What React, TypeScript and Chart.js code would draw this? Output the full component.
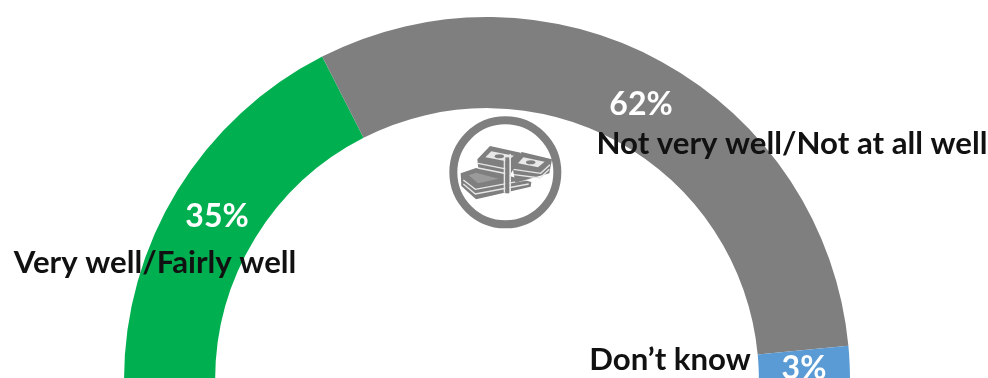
import React, { useEffect, useRef } from "react";
import { Chart, registerables } from "chart.js";

Chart.register(...registerables);

const categories = ["Very well/Fairly well", "Not very well/Not at all well", "Don’t know"];
const values = [35, 62, 3];
const percentLabels = ["35%", "62%", "3%"];
const colors = ["#00B050", "#7F7F7F", "#5B9BD5"];

const FONT = "Lato, Carlito, sans-serif";

const labelPlugin = {
  id: "gaugeLabels",
  afterDraw(chart: any) {
    const ctx = chart.ctx as CanvasRenderingContext2D;
    ctx.save();
    ctx.textBaseline = "alphabetic";
    ctx.textAlign = "center";
    const pct: [number, number][] = [[217, 227], [641, 115], [804, 379]];
    ctx.fillStyle = "#FFFFFF";
    ctx.font = `bold 32px ${FONT}`;
    percentLabels.forEach((t, i) => ctx.fillText(t, pct[i][0], pct[i][1]));
    const cat: [number, number][] = [[155, 273], [792, 154], [670, 370]];
    ctx.fillStyle = "#111111";
    ctx.font = `bold 31.2px ${FONT}`;
    categories.forEach((t, i) => ctx.fillText(t, cat[i][0], cat[i][1]));
    ctx.restore();
  },
};

function MoneyIcon() {
  const g = "#7F7F7F";
  const w = "#E8E8E8";
  return (
    <svg
      width={130}
      height={130}
      viewBox="0 -30 390 390"
      style={{ position: "absolute", left: 440, top: 110 }}
    >
      <circle cx={196} cy={157} r={156} fill="none" stroke={g} strokeWidth={24} />
      {/* bottom stack */}
      <polygon points="62,160 108,144 200,166 274,186 272,200 108,238 64,198" fill={g} />
      <polygon points="86,166 108,158 176,176 114,190" fill="#9A9A9A" />
      <path d="M70,180 L106,208 L268,178 M70,192 L106,222 L266,192" stroke={w} strokeWidth={4} fill="none" />
      {/* right stack */}
      <polygon points="245,96 336,118 328,160 226,188 216,132" fill={g} />
      <polygon points="250,112 314,125 294,142 234,130" fill={w} />
      <ellipse cx={272} cy={127} rx={14} ry={6} fill={g} />
      <path d="M220,148 L302,160 L330,134 M222,164 L300,174 L328,148" stroke={w} strokeWidth={4} fill="none" />
      {/* left stack */}
      <polygon points="150,78 242,98 238,120 204,174 116,154 112,118" fill={g} />
      <polygon points="154,94 222,107 200,124 136,112" fill={w} />
      <ellipse cx={178} cy={109} rx={14} ry={6} fill={g} />
      <path d="M114,130 L204,148 M114,144 L204,162" stroke={w} strokeWidth={4} fill="none" />
      {/* band */}
      <rect x={191} y={120} width={5} height={98} fill={w} />
      <rect x={196} y={112} width={12} height={108} fill={g} />
      <rect x={208} y={102} width={5} height={115} fill={w} />
    </svg>
  );
}

export default function App() {
  const ref = useRef<HTMLCanvasElement>(null);
  useEffect(() => {
    document.body.style.margin = "0";
    const chart = new Chart(ref.current as HTMLCanvasElement, {
      type: "doughnut",
      data: {
        labels: categories,
        datasets: [{ data: values, backgroundColor: colors, borderWidth: 0 }],
      },
      options: {
        animation: false,
        responsive: false,
        rotation: -90,
        circumference: 180,
        cutout: "74.9%",
        layout: { padding: { left: 124, right: 138, top: 17, bottom: 0 } },
        plugins: { legend: { display: false }, tooltip: { enabled: false } },
      },
      plugins: [labelPlugin],
    } as any);
    return () => chart.destroy();
  }, []);
  return (
    <div style={{ position: "relative", width: 988, height: 378, overflow: "hidden", background: "#fff", filter: "blur(0.4px)" }}>
      <canvas ref={ref} width={988} height={380} style={{ display: "block", width: 988, height: 380 }} />
      <MoneyIcon />
    </div>
  );
}
